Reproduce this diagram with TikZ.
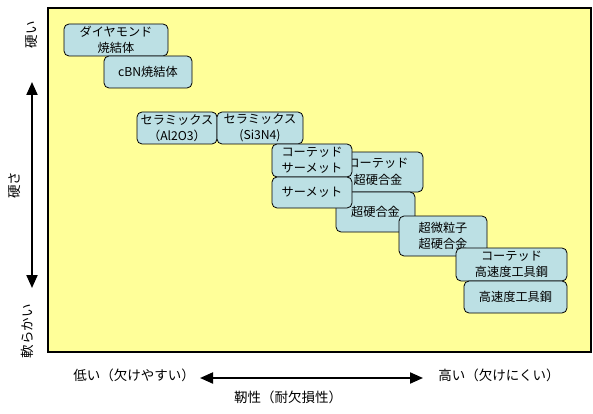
\documentclass[tikz,border=0pt]{standalone}
\usepackage{fontspec}
\setmainfont{Noto Sans CJK JP}
\usepackage{tikz}
\usetikzlibrary{arrows.meta,positioning}
\definecolor{chartbg}{RGB}{255,255,153}
\definecolor{toolfill}{RGB}{188,224,228}
\tikzset{
    tool/.style={
        draw,
        line width=0.8pt,
        rounded corners=5pt,
        align=center,
        inner sep=0pt,
        fill=toolfill,
        font=\fontsize{12.2}{16.5}\selectfont
    },
    axislabel/.style={
        inner sep=0pt,
        font=\fontsize{13.5}{15}\selectfont
    },
    axisflow/.style={
        {Triangle[length=13pt,width=11pt]}-{Triangle[length=13pt,width=11pt]},
        line width=2pt
    }
}

\begin{document}
\begin{tikzpicture}[x=1pt,y=-1pt]
        \useasboundingbox (0,0) rectangle (593,414);
        \draw[fill=chartbg, line width=1.2pt] (48,8) rectangle (591,352);

        \node[tool, minimum width=104pt, minimum height=32pt] (diamond) at (116,40) {ダイヤモンド\\焼結体};
        \node[tool, minimum width=88pt, minimum height=32pt] (cbn) at (148,72) {cBN焼結体};
        \node[tool, minimum width=80pt, minimum height=32pt] (alumina) at (177,128) {セラミックス\\（Al2O3）};
        \node[tool, minimum width=86pt, minimum height=32pt] (nitride) at (260,128) {セラミックス\\(Si3N4)};
        \node[tool, minimum width=90pt, minimum height=40pt] (ccarbide) at (378,172) {コーテッド\\超硬合金};
        \node[tool, minimum width=79pt, minimum height=40pt] (carbide) at (375.5,212) {超硬合金};
        \node[tool, minimum width=80pt, minimum height=33pt] (ccermet) at (312,160.5) {コーテッド\\サーメット};
        \node[tool, minimum width=80pt, minimum height=31pt] (cermet) at (312,192.5) {サーメット};
        \node[tool, minimum width=88pt, minimum height=40pt] (ultrafine) at (443,236) {超微粒子\\超硬合金};
        \node[tool, minimum width=111pt, minimum height=33pt] (chss) at (511.5,264.5) {コーテッド\\高速度工具鋼};
        \node[tool, minimum width=103pt, minimum height=32pt] (hss) at (515.5,297) {高速度工具鋼};

        % hardness axis
        \node[axislabel, rotate=90] (hard) at (32,35) {硬い};
        \node[axislabel, rotate=90] (hardness) at (15,185) {硬さ};
        \node[axislabel, rotate=90] (soft) at (27,331) {軟らかい};
        \coordinate (hardtop) at (32,82);
        \coordinate (hardbot) at (32,288);
        \draw[axisflow] (hardtop) -- (hardbot);

        % toughness axis
        \node[axislabel] (low) at (134,375) {低い（欠けやすい）};
        \node[axislabel] (high) at (499,375) {高い（欠けにくい）};
        \node[axislabel] (tough) at (288,397) {靭性（耐欠損性）};
        \coordinate (toughleft) at (200,378);
        \coordinate (toughright) at (423,378);
        \draw[axisflow] (toughleft) -- (toughright);
    \end{tikzpicture}
\end{document}
